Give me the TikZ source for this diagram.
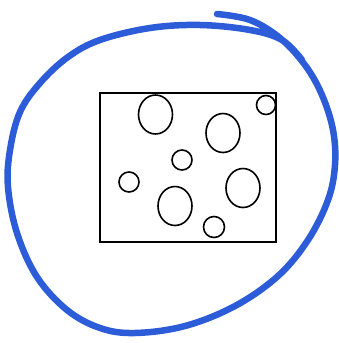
\documentclass[tikz,border=0pt]{standalone}
\usepackage{tikz}
\definecolor{loopblue}{RGB}{44,92,216}
\begin{document}
\begin{tikzpicture}[x=1pt,y=-1pt,line width=1.6pt]
  \useasboundingbox (0,0) rectangle (339,343);
  \draw[loopblue, line width=6.5pt, line cap=round, line join=round]
    plot[smooth, tension=0.6] coordinates {(217,14) (250,20) (280,38) (305,65) (322,95) (333,130) (335,165) (328,200) (308,240) (278,276) (235,306) (185,326) (135,333) (100,328) (67,310) (37,277) (17,233) (8,187) (10,150) (20,112) (40,83) (68,57) (100,40) (150,28) (200,25) (250,30) (282,40) (302,60)};
  \draw[line width=1.4pt] (100,93) rectangle (276,242);
  \draw (155.5,114.5) ellipse (17pt and 19.5pt);
  \draw (223,133) ellipse (17pt and 19.5pt);
  \draw (175,206) ellipse (17pt and 19.5pt);
  \draw (243,188) ellipse (17pt and 19.5pt);
  \draw (266,105) circle (9.5pt);
  \draw (182,160) circle (10pt);
  \draw (129,182) circle (10pt);
  \draw (214,227) circle (10.5pt);
\end{tikzpicture}
\end{document}
